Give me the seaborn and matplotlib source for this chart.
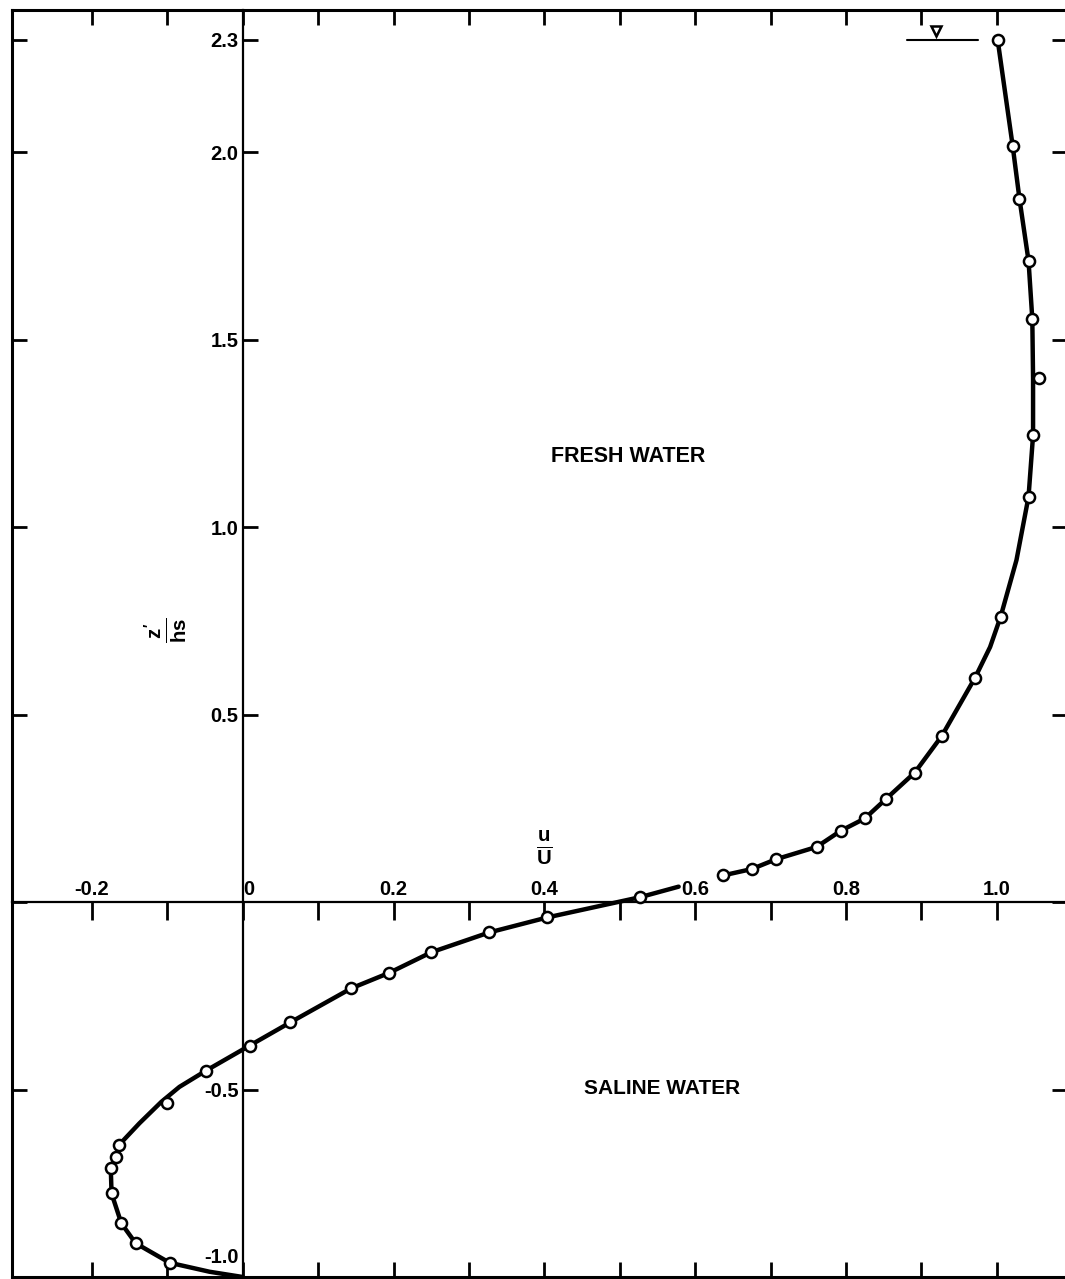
import pandas as pd
import seaborn as sns
import matplotlib.pyplot as plt

# measured points, u/U against z'/hs
u_meas = [1.001, 1.021, 1.030, 1.042, 1.047, 1.056, 1.048, 1.042, 1.005, 0.971,
          0.927, 0.891, 0.853, 0.825, 0.793, 0.761, 0.707, 0.675, 0.637, 0.527,
          0.404, 0.327, 0.250, 0.194, 0.144, 0.063, 0.009, -0.049, -0.100, -0.164,
          -0.168, -0.175, -0.174, -0.161, -0.142, -0.097]
z_meas = [2.300, 2.016, 1.875, 1.710, 1.555, 1.397, 1.245, 1.081, 0.761, 0.598,
          0.443, 0.345, 0.275, 0.223, 0.190, 0.147, 0.114, 0.088, 0.071, 0.013,
          -0.041, -0.081, -0.134, -0.189, -0.230, -0.321, -0.383, -0.450, -0.537, -0.648,
          -0.679, -0.710, -0.777, -0.857, -0.910, -0.962]

# drawn profile curve, saline part (up to the break near 0.6) and fresh part
u_curve_low = [0.0, -0.044, -0.097, -0.142, -0.161, -0.174, -0.175, -0.168, -0.159,
               -0.137, -0.108, -0.084, -0.049, 0.009, 0.063, 0.144, 0.194, 0.250, 0.327,
               0.404, 0.527, 0.578]
z_curve_low = [-1.0, -0.986, -0.962, -0.910, -0.857, -0.777, -0.710, -0.679, -0.637,
               -0.590, -0.533, -0.493, -0.450, -0.383, -0.321, -0.230, -0.189, -0.134, -0.081,
               -0.041, 0.013, 0.041]
u_curve_up = [0.637, 0.675, 0.707, 0.761, 0.793, 0.825, 0.853, 0.891, 0.927, 0.971,
              0.991, 1.005, 1.026, 1.042, 1.048, 1.048, 1.047, 1.042, 1.030, 1.021, 1.001]
z_curve_up = [0.071, 0.088, 0.114, 0.147, 0.190, 0.223, 0.275, 0.345, 0.443, 0.598,
              0.680, 0.761, 0.912, 1.081, 1.245, 1.397, 1.555, 1.710, 1.875, 2.016, 2.300]

x_ticks = [-0.2, -0.1, 0.0, 0.1, 0.2, 0.3, 0.4, 0.5, 0.6, 0.7, 0.8, 0.9, 1.0]
x_labels = ['-0.2', '', '0', '', '0.2', '', '0.4', '', '0.6', '', '0.8', '', '1.0']
y_ticks = [-1.0, -0.5, 0.5, 1.0, 1.5, 2.0, 2.3]
y_labels = ['', '-0.5', '0.5', '1.0', '1.5', '2.0', '2.3']
frame_y_ticks = [-0.5, 0.0, 0.5, 1.0, 1.5, 2.0, 2.3]
surface = z_meas[0]

curve = pd.concat([
    pd.DataFrame({'u': u_curve_low, 'z': z_curve_low, 'part': 'saline'}),
    pd.DataFrame({'u': u_curve_up, 'z': z_curve_up, 'part': 'fresh'}),
], ignore_index=True)
points = pd.DataFrame({'u': u_meas, 'z': z_meas})

sns.set_theme(style='white')
plt.rcParams['font.family'] = ['Liberation Sans', 'DejaVu Sans']
plt.rcParams['font.weight'] = 'bold'
plt.rcParams['text.color'] = 'black'
plt.rcParams['mathtext.fontset'] = 'custom'
plt.rcParams['mathtext.rm'] = 'Liberation Sans:bold'
plt.rcParams['mathtext.it'] = 'Liberation Sans:bold'
plt.rcParams['mathtext.bf'] = 'Liberation Sans:bold'

xlim = (-0.306, 1.093)
ylim = (-1.0, 2.379)
pos = [12 / 1065, 2 / 1279, 1055 / 1065, 1267 / 1279]

fig = plt.figure(figsize=(10.65, 12.79), dpi=100)

# outer frame with inward ticks
ax = fig.add_axes(pos)
ax.set_xlim(xlim)
ax.set_ylim(ylim)
for s in ax.spines.values():
    s.set_linewidth(2.2)
    s.set_color('black')
ax.set_xticks(x_ticks)
ax.set_yticks(frame_y_ticks)
ax.tick_params(axis='x', direction='in', top=True, bottom=True, length=11, width=2,
               color='black', labelbottom=False, labeltop=False)
ax.tick_params(axis='y', direction='in', left=True, right=True, length=11, width=2,
               color='black', labelleft=False, labelright=False)

# inner axes crossing at the origin
ax2 = fig.add_axes(pos)
ax2.patch.set_visible(False)
ax2.set_xlim(xlim)
ax2.set_ylim(ylim)
ax2.spines['left'].set_position(('data', 0))
ax2.spines['top'].set_position(('data', 0))
ax2.spines['right'].set_visible(False)
ax2.spines['bottom'].set_visible(False)
for side in ['left', 'top']:
    ax2.spines[side].set_linewidth(1.6)
    ax2.spines[side].set_color('black')
ax2.xaxis.set_ticks_position('top')
ax2.yaxis.set_ticks_position('left')

sns.lineplot(data=curve, x='u', y='z', units='part', estimator=None, sort=False,
             color='black', linewidth=3.2, ax=ax2, zorder=3)
sns.scatterplot(data=points, x='u', y='z', s=64, color='white', edgecolor='black',
                linewidth=1.8, ax=ax2, zorder=4)

ax2.set_xlim(xlim)
ax2.set_ylim(ylim)
ax2.set_xlabel('')
ax2.set_ylabel('')
ax2.set_xticks(x_ticks, x_labels)
ax2.set_yticks(y_ticks, y_labels)
ax2.tick_params(axis='x', direction='in', length=13, width=2, pad=2, labelsize=14.5,
                top=True, bottom=False, labeltop=True, labelbottom=False, colors='black')
ax2.tick_params(axis='y', direction='in', length=11, width=2, pad=3, labelsize=14.5,
                left=True, right=False, colors='black')
for lab in ax2.get_xticklabels():
    if lab.get_text() == '0':
        lab.set_horizontalalignment('left')

# bottom label sits above the frame
ax2.annotate(f'{y_ticks[0]:.1f}', xy=(0, y_ticks[0]), xytext=(-3, 14),
             textcoords='offset points', ha='right', va='center', fontsize=14.5)

# water surface symbol
ax2.plot([0.881, 0.975], [surface, surface], color='black', lw=1.5)
ax2.plot([0.919], [surface + 0.022], marker='v', ms=7, mfc='white', mec='black', mew=1.8)

ax2.text(0.511, 1.189, 'FRESH WATER', ha='center', va='center', fontsize=15.5)
ax2.text(0.556, -0.496, 'SALINE WATER', ha='center', va='center', fontsize=15)
ax2.text(0.40, 0.144, r'$\frac{u}{U}$', ha='center', va='center', fontsize=21)
ax2.text(-0.102, 0.725, r"$\frac{z^{\prime}}{hs}$", ha='center', va='center', fontsize=21,
         rotation=90)

fig.savefig('out.png', dpi=100)
